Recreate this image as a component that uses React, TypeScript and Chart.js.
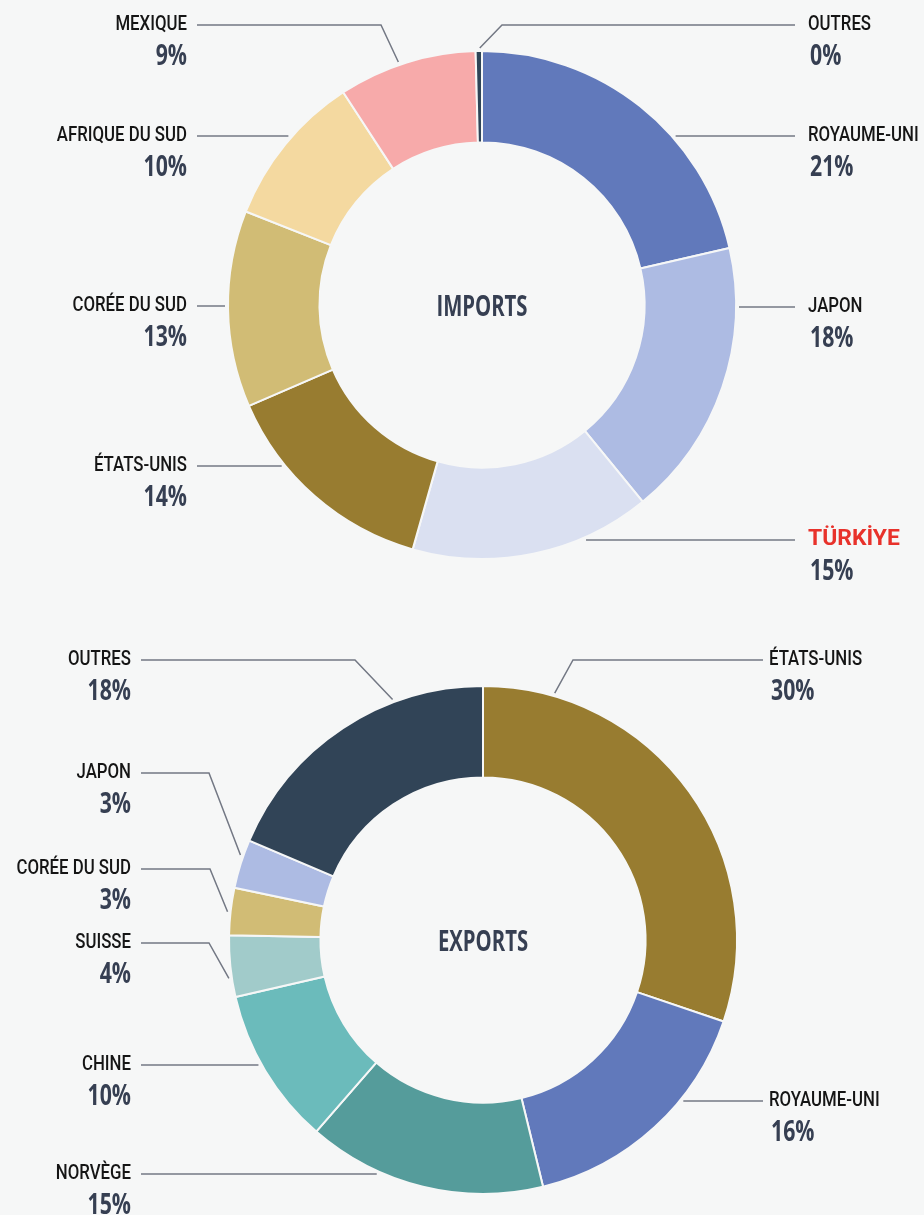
import React, { useEffect, useRef } from "react";
import { Chart, registerables } from "chart.js";

Chart.register(...registerables);

// ---------- DATA ----------
const importLabels = ["ROYAUME-UNI", "JAPON", "TÜRKİYE", "ÉTATS-UNIS", "CORÉE DU SUD", "AFRIQUE DU SUD", "MEXIQUE", "OUTRES"];
const importValues = [21.4, 17.7, 15.3, 14.1, 12.5, 9.8, 8.8, 0.4];
const importPct = ["21%", "18%", "15%", "14%", "13%", "10%", "9%", "0%"];
const importColors = ["#6179bb", "#adbbe3", "#dae0f1", "#987c30", "#d1bc75", "#f4d9a0", "#f7aaaa", "#2f4457"];

const exportLabels = ["ÉTATS-UNIS", "ROYAUME-UNI", "NORVÈGE", "CHINE", "SUISSE", "CORÉE DU SUD", "JAPON", "OUTRES"];
const exportValues = [30.2, 16.0, 15.2, 10.0, 3.9, 3.0, 3.1, 18.6];
const exportPct = ["30%", "16%", "15%", "10%", "4%", "3%", "3%", "18%"];
const exportColors = ["#987c30", "#6179bb", "#559c9b", "#6bbbbb", "#a1cbca", "#d1bc75", "#adbbe3", "#314457"];

// ---------- CALLOUT LAYOUT ----------
const importSide = ["right", "right", "right", "left", "left", "left", "left", "right"];
const importLineY = [136, 307, 540, 466, 306, 136, 25, 25];
const importElbowX: (number | null)[] = [null, null, null, null, null, null, 381, 502];
const importEndAngle: (number | null)[] = [null, null, null, null, null, null, 341, 359.5];

const exportSide = ["right", "right", "left", "left", "left", "left", "left", "left"];
const exportLineY = [45, 486, 559, 450, 328, 254, 158, 45];
const exportElbowX: (number | null)[] = [573, null, null, null, 209, 210, 209, 355];
const exportEndAngle: (number | null)[] = [16.2, null, null, null, 261.4, 276.3, 289.3, 339.4];

const BG = "#f6f7f7";
const LABEL_COLOR = "#151515";
const PCT_COLOR = "#363f52";
const HIGHLIGHT = "#e8322b";
const LINE_COLOR = "#737884";

type CalloutCfg = {
  title: string;
  labels: string[];
  pct: string[];
  side: string[];
  lineY: number[];
  elbowX: (number | null)[];
  endAngle: (number | null)[];
  leftTextX: number;
  leftLineX: number;
  rightTextX: number;
  rightLineX: number;
  highlight?: string;
};

function drawText(ctx: CanvasRenderingContext2D, text: string, x: number, y: number, font: string, color: string, align: CanvasTextAlign, sx: number) {
  ctx.save();
  ctx.font = font;
  ctx.fillStyle = color;
  ctx.textBaseline = "alphabetic";
  ctx.textAlign = align;
  ctx.translate(x, y);
  ctx.scale(sx, 1);
  ctx.fillText(text, 0, 0);
  ctx.restore();
}

function makeCallouts(cfg: CalloutCfg) {
  return {
    id: "callouts",
    afterDraw(chart: any) {
      const ctx: CanvasRenderingContext2D = chart.ctx;
      const arc = chart.getDatasetMeta(0).data[0] as any;
      const cx = arc.x;
      const cy = arc.y;
      const R = arc.outerRadius + 3;
      ctx.save();
      // center title
      drawText(ctx, cfg.title, cx, cy + 10.5, "bold 29px 'Open Sans'", PCT_COLOR, "center", 0.7);
      ctx.strokeStyle = LINE_COLOR;
      ctx.lineWidth = 1.5;
      cfg.labels.forEach((lab, i) => {
        const left = cfg.side[i] === "left";
        const y = cfg.lineY[i];
        const outerX = left ? cfg.leftLineX : cfg.rightLineX;
        ctx.beginPath();
        ctx.moveTo(outerX, y);
        const ang = cfg.endAngle[i];
        const ex = cfg.elbowX[i];
        if (ang !== null && ex !== null) {
          const t = (ang * Math.PI) / 180;
          ctx.lineTo(ex, y);
          ctx.lineTo(cx + R * Math.sin(t), cy - R * Math.cos(t));
        } else {
          const dy = y - cy;
          const dx = Math.sqrt(Math.max(R * R - dy * dy, 0));
          ctx.lineTo(left ? cx - dx : cx + dx, y);
        }
        ctx.stroke();
        const tx = left ? cfg.leftTextX : cfg.rightTextX;
        const align: CanvasTextAlign = left ? "right" : "left";
        const isHi = cfg.highlight === lab;
        drawText(ctx, lab, tx, y + 5, (isHi ? "bold 22px" : "500 21px") + " Roboto", isHi ? HIGHLIGHT : LABEL_COLOR, align, isHi ? 1.04 : 0.8);
        drawText(ctx, cfg.pct[i], tx + (left ? 0 : 2), y + 40, "bold 28px 'Open Sans'", PCT_COLOR, align, 0.76);
      });
      ctx.restore();
    },
  };
}

function Donut(props: {
  labels: string[];
  values: number[];
  colors: string[];
  cfg: CalloutCfg;
  width: number;
  height: number;
  top: number;
  padding: { left: number; right: number; top: number; bottom: number };
}) {
  const ref = useRef<HTMLCanvasElement | null>(null);
  useEffect(() => {
    if (!ref.current) return;
    const chart = new Chart(ref.current, {
      type: "doughnut",
      data: {
        labels: props.labels,
        datasets: [
          {
            data: props.values,
            backgroundColor: props.colors,
            borderColor: BG,
            borderWidth: 2,
          },
        ],
      },
      options: {
        animation: false,
        responsive: false,
        events: [],
        radius: 254,
        cutout: "64%",
        layout: { padding: props.padding },
        plugins: { legend: { display: false }, tooltip: { enabled: false } },
      } as any,
      plugins: [makeCallouts(props.cfg)],
    });
    return () => chart.destroy();
  }, []);
  return (
    <canvas
      ref={ref}
      width={props.width}
      height={props.height}
      style={{ position: "absolute", left: 0, top: props.top, width: props.width, height: props.height }}
    />
  );
}

export default function App() {
  useEffect(() => {
    document.body.style.margin = "0";
    document.body.style.background = BG;
  }, []);
  const importCfg: CalloutCfg = {
    title: "IMPORTS",
    labels: importLabels,
    pct: importPct,
    side: importSide,
    lineY: importLineY,
    elbowX: importElbowX,
    endAngle: importEndAngle,
    leftTextX: 187,
    leftLineX: 197,
    rightTextX: 808,
    rightLineX: 795,
    highlight: "TÜRKİYE",
  };
  const exportCfg: CalloutCfg = {
    title: "EXPORTS",
    labels: exportLabels,
    pct: exportPct,
    side: exportSide,
    lineY: exportLineY,
    elbowX: exportElbowX,
    endAngle: exportEndAngle,
    leftTextX: 131,
    leftLineX: 141,
    rightTextX: 769,
    rightLineX: 763,
  };
  return (
    <div style={{ position: "absolute", left: 0, top: 0, width: 924, height: 1215, background: BG, overflow: "hidden" }}>
      <Donut
        labels={importLabels}
        values={importValues}
        colors={importColors}
        cfg={importCfg}
        width={924}
        height={615}
        top={0}
        padding={{ left: 40, right: 0, top: 0, bottom: 5 }}
      />
      <Donut
        labels={exportLabels}
        values={exportValues}
        colors={exportColors}
        cfg={exportCfg}
        width={924}
        height={600}
        top={615}
        padding={{ left: 42, right: 0, top: 50, bottom: 0 }}
      />
    </div>
  );
}
